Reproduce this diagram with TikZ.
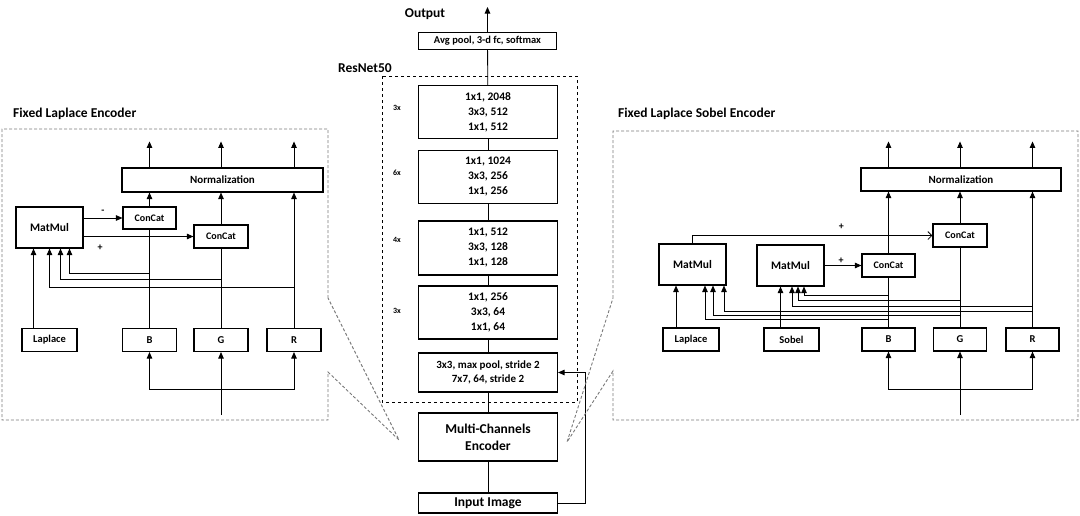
\documentclass[tikz,border=0pt]{standalone}
\usepackage{fontspec}
\setmainfont{Carlito}
\usetikzlibrary{arrows.meta,positioning}
\definecolor{zoomline}{HTML}{7A7A7A}

\begin{document}
\begin{tikzpicture}[
  x=1pt, y=-1pt,
  font=\bfseries,
  box/.style={draw, line width=1.1pt, align=center, inner sep=0pt},
  chan/.style={box, minimum width=54, minimum height=23, font=\bfseries\fontsize{10.5}{12}\selectfont},
  matbox/.style={box, minimum width=67, minimum height=41, font=\bfseries\fontsize{11.5}{13}\selectfont},
  catbox/.style={box, minimum width=54, minimum height=23, font=\bfseries\fontsize{10}{11}\selectfont},
  normbox/.style={box, minimum width=201, minimum height=24, font=\bfseries\fontsize{11}{12}\selectfont},
  blk/.style={box, minimum width=139, minimum height=53, font=\bfseries\fontsize{11.5}{15}\selectfont},
  title/.style={anchor=west, inner sep=0pt, font=\bfseries\fontsize{13.5}{15}\selectfont},
  rep/.style={inner sep=0pt, font=\bfseries\fontsize{8}{9}\selectfont},
  sign/.style={inner sep=0pt, font=\bfseries\fontsize{10}{12}\selectfont},
  conn/.style={line width=0.85pt},
  arr/.style={conn, -{Triangle[length=6.5pt,width=5.5pt]}},
  openarr/.style={conn, -{Straight Barb[length=4pt,width=8pt]}},
  zoomed/.style={zoomline, densely dashed, line width=0.9pt}
]
\useasboundingbox (0,0) rectangle (1080,515);

% ResNet50 column
\node[title, anchor=center] (outlbl) at (425,14) {Output};
\coordinate (out) at (487.5,7);
\node[box, minimum width=138, minimum height=17, font=\bfseries\fontsize{10.5}{12}\selectfont] (avg) at (487.5,41) {Avg pool, 3-d fc, softmax};
\node[title] (reslbl) at (338,68) {ResNet50};
\draw[dashed, line width=0.9pt] (382,76) rectangle (577,402);

\node[blk] (blkA) at (488,112) {1x1, 2048\\3x3, 512\\1x1, 512};
\node[blk] (blkB) at (488,177) {1x1, 1024\\3x3, 256\\1x1, 256};
\node[blk, minimum height=54] (blkC) at (488,248) {1x1, 512\\3x3, 128\\1x1, 128};
\node[blk] (blkD) at (488,312.5) {1x1, 256\\3x3, 64\\1x1, 64};
\node[blk, minimum height=39, font=\bfseries\fontsize{11}{14}\selectfont] (blkE) at (488,372.5) {3x3, max pool, stride 2\\7x7, 64, stride 2};
\node[rep] at (397,108) {3x};
\node[rep] at (397,173) {6x};
\node[rep] at (397,240) {4x};
\node[rep] at (397,311) {3x};

\node[blk, minimum height=48, font=\bfseries\fontsize{13.5}{17}\selectfont] (mce) at (488,437) {Multi-Channels\\Encoder};
\node[blk, minimum height=20, font=\bfseries\fontsize{13.5}{15}\selectfont] (inp) at (488,503) {Input Image};

\draw[conn] (inp) -- (mce);
\draw[conn] (mce) -- (blkE);
\draw[conn] (blkE) -- (blkD);
\draw[conn] (blkD) -- (blkC);
\draw[conn] (blkC) -- (blkB);
\draw[conn] (blkB) -- (blkA);
\draw[conn] (blkA) -- (avg);
\draw[arr] (avg.north) -- (out);
\draw[arr] (inp.east) -- ++(27,0) |- (blkE.east);

% Fixed Laplace Encoder
\node[title] (ltitle) at (13,114) {Fixed Laplace Encoder};
\coordinate (lzoom) at (399,440);
\draw[zoomed] (328,298) -- (328,129) -- (2,129) -- (2,420) -- (328,420) -- (328,372) -- (lzoom) -- cycle;

\node[normbox] (lnorm) at (222.5,180) {Normalization};
\node[matbox] (lmat) at (49.5,227.5) {MatMul};
\node[catbox, minimum width=53, minimum height=22] (lcat1) at (149.5,218) {ConCat};
\node[catbox] (lcat2) at (221,236.5) {ConCat};
\node[chan, minimum width=55] (llap) at (49.5,340) {Laplace};
\node[chan] (lb) at (149.5,340) {B};
\node[chan] (lg) at (221,340) {G};
\node[chan] (lr) at (294,340) {R};

\foreach \n in {lb,lg,lr}
  \draw[arr] (lnorm.north -| \n) -- ++(0,-26);
\draw[arr] (lcat1.north) -- (lcat1.north |- lnorm.south);
\draw[arr] (lcat2.north) -- (lcat2.north |- lnorm.south);
\draw[arr] (lr.north) -- (lr.north |- lnorm.south);
\draw[conn] (lb.north) -- (lcat1.south);
\draw[conn] (lg.north) -- (lcat2.south);

\draw[arr] (lmat.east |- lcat1) -- node[sign, above=4pt] {-} (lcat1.west);
\draw[arr] (lmat.east |- lcat2) -- node[sign, pos=0.15, below=8pt] {+} (lcat2.west);

\draw[arr] ([xshift=-16pt]llap.north) -- ([xshift=-16pt]lmat.south);
\draw[arr] (lb.north) ++(0,-55) -| ([xshift=20pt]lmat.south);
\draw[arr] (lg.north) ++(0,-49) -| ([xshift=11pt]lmat.south);
\draw[arr] (lr.north) ++(0,-41) -| (lmat.south);

\coordinate (lin) at (221,415);
\coordinate (ljoin) at (221,389);
\draw[arr] (lin) -- (lg.south);
\draw[arr] (ljoin) -| (lb.south);
\draw[arr] (ljoin) -| (lr.south);

% Fixed Laplace Sobel Encoder
\node[title] (rtitle) at (618,114) {Fixed Laplace Sobel Encoder};
\coordinate (rzoom) at (567,442);
\draw[zoomed] (613,298) -- (613,131) -- (1078,131) -- (1078,420) -- (613,420) -- (613,371) -- (rzoom) -- cycle;

\node[normbox, minimum width=200, minimum height=23] (rnorm) at (961,179.5) {Normalization};
\node[catbox] (rcat2) at (960,235.5) {ConCat};
\node[catbox, minimum width=53] (rcat1) at (888.5,265.5) {ConCat};
\node[matbox] (rmat1) at (692.5,264.5) {MatMul};
\node[matbox] (rmat2) at (790.5,265.5) {MatMul};
\node[chan, minimum width=56] (rlap) at (691,339.5) {Laplace};
\node[chan, minimum width=55] (rsob) at (791.5,339.5) {Sobel};
\node[chan, minimum width=53] (rb) at (888.5,339.5) {B};
\node[chan, minimum width=53] (rg) at (960,339.5) {G};
\node[chan, minimum width=53] (rr) at (1032.5,339.5) {R};

\foreach \n in {rb,rg,rr}
  \draw[arr] (rnorm.north -| \n) -- ++(0,-26);
\draw[arr] (rcat1.north) -- (rcat1.north |- rnorm.south);
\draw[arr] (rcat2.north) -- (rcat2.north |- rnorm.south);
\draw[arr] (rr.north) -- (rr.north |- rnorm.south);
\draw[conn] (rb.north) -- (rcat1.south);
\draw[conn] (rg.north) -- (rcat2.south);

\draw[openarr] (rmat1.north) |- node[sign, pos=0.81, above=6pt] {+} (rcat2.west);
\draw[arr] (rmat2.east |- rcat1) -- node[sign, pos=0.45, above=2pt] {+} (rcat1.west);

\draw[arr] ([xshift=-15pt]rlap.north) -- ([xshift=-15pt]rlap.north |- rmat1.south);
\draw[arr] ([xshift=-11pt]rsob.north) -- ([xshift=-11pt]rsob.north |- rmat2.south);
% branches into the second MatMul
\draw[arr] (rb.north) ++(0,-32) -| ([xshift=13.5pt]rmat2.south);
\draw[arr] (rg.north) ++(0,-27) -| ([xshift=7.5pt]rmat2.south);
\draw[arr] (rr.north) ++(0,-21) -| ([xshift=1.5pt]rmat2.south);
% branches into the first MatMul
\draw[arr] (rr.north) ++(0,-16) -| ([xshift=31.5pt]rmat1.south);
\draw[arr] (rg.north) ++(0,-12) -| ([xshift=20.5pt]rmat1.south);
\draw[arr] (rb.north) ++(0,-8) -| ([xshift=12.5pt]rmat1.south);

\coordinate (rin) at (960,415);
\coordinate (rjoin) at (960,389);
\draw[arr] (rin) -- (rg.south);
\draw[arr] (rjoin) -| (rb.south);
\draw[arr] (rjoin) -| (rr.south);

\end{tikzpicture}
\end{document}
